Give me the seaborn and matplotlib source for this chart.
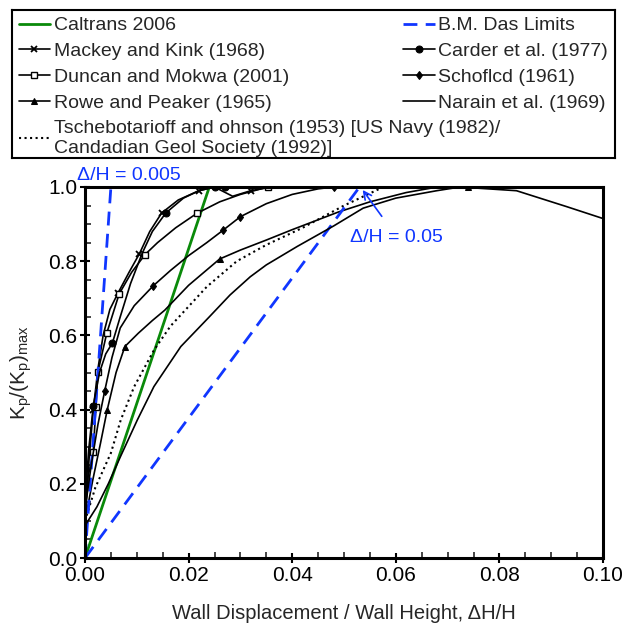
import matplotlib
matplotlib.use("Agg")
import matplotlib.pyplot as plt
from matplotlib.ticker import MultipleLocator, FormatStrFormatter
import seaborn as sns
import pandas as pd

mackey_x = [0, 0.0008, 0.0016, 0.0025, 0.0035, 0.0048, 0.0064, 0.0085, 0.0105, 0.0125, 0.0148, 0.018, 0.022, 0.025, 0.0285, 0.032, 0.036, 0.045, 0.06]
mackey_y = [0.10, 0.27, 0.40, 0.51, 0.60, 0.67, 0.715, 0.77, 0.82, 0.88, 0.93, 0.965, 0.99, 1.0, 0.975, 0.99, 1.0, 1.0, 1.0]

carder_x = [0, 0.0007, 0.0016, 0.0028, 0.004, 0.0053, 0.0068, 0.0088, 0.011, 0.013, 0.0156, 0.019, 0.022, 0.025, 0.027, 0.030, 0.04]
carder_y = [0.15, 0.29, 0.41, 0.50, 0.55, 0.58, 0.65, 0.74, 0.82, 0.88, 0.93, 0.97, 0.99, 1.0, 1.0, 1.0, 1.0]

duncan_x = [0, 0.0006, 0.0016, 0.0021, 0.0025, 0.0042, 0.0066, 0.0090, 0.0116, 0.014, 0.0175, 0.0216, 0.026, 0.030, 0.0353, 0.045]
duncan_y = [0.12, 0.22, 0.287, 0.407, 0.502, 0.606, 0.712, 0.77, 0.818, 0.85, 0.89, 0.929, 0.96, 0.98, 1.0, 1.0]

schofield_x = [0, 0.0012, 0.0025, 0.0038, 0.0052, 0.0068, 0.0095, 0.0132, 0.0165, 0.020, 0.0235, 0.0267, 0.030, 0.035, 0.040, 0.045, 0.048, 0.06]
schofield_y = [0.13, 0.25, 0.36, 0.45, 0.54, 0.62, 0.68, 0.734, 0.775, 0.815, 0.85, 0.884, 0.92, 0.955, 0.98, 0.995, 1.0, 1.0]

rowe_x = [0, 0.0015, 0.003, 0.0043, 0.006, 0.0077, 0.0103, 0.013, 0.0154, 0.020, 0.026, 0.030, 0.035, 0.040, 0.049, 0.055, 0.062, 0.068, 0.074]
rowe_y = [0.10, 0.21, 0.31, 0.40, 0.50, 0.57, 0.606, 0.64, 0.668, 0.735, 0.806, 0.83, 0.857, 0.885, 0.933, 0.96, 0.985, 1.0, 1.0]

narain_x = [0, 0.0003, 0.0023, 0.0045, 0.0069, 0.0101, 0.0133, 0.0185, 0.024, 0.028, 0.0319, 0.035, 0.041, 0.048, 0.0537, 0.060, 0.0679, 0.0724, 0.0833, 0.093, 0.10]
narain_y = [0.08, 0.094, 0.138, 0.20, 0.275, 0.372, 0.462, 0.57, 0.65, 0.709, 0.758, 0.79, 0.84, 0.895, 0.943, 0.97, 0.99, 1.0, 0.99, 0.947, 0.915]

tsch_x = [0, 0.002, 0.005, 0.0069, 0.0095, 0.0133, 0.0165, 0.0235, 0.0293, 0.035, 0.042, 0.050, 0.0576]
tsch_y = [0.10, 0.19, 0.283, 0.372, 0.462, 0.56, 0.625, 0.731, 0.80, 0.844, 0.89, 0.95, 1.0]

caltrans_x = [0, 0.024]
caltrans_y = [0, 1.0]

das_low_x = [0, 0.005]
das_high_x = [0, 0.053]
das_y = [0, 1.0]

GREEN = "#0a8a0a"
BLUE = "#1036ff"

sns.set_style("ticks")
plt.rcParams["font.family"] = ["Liberation Sans", "DejaVu Sans"]
plt.rcParams["mathtext.fontset"] = "custom"
plt.rcParams["mathtext.rm"] = "Liberation Sans"
plt.rcParams["mathtext.it"] = "Liberation Sans"

fig = plt.figure(figsize=(6.22, 6.26), dpi=100)
ax = fig.add_axes([85 / 622, 1 - 558 / 626, 518 / 622, 371 / 626])


def draw(xs, ys, label, **kw):
    df = pd.DataFrame({"x": xs, "y": ys})
    sns.lineplot(data=df, x="x", y="y", ax=ax, sort=False, estimator=None,
                 label=label, **kw)


TSCH = "Tschebotarioff and ohnson (1953) [US Navy (1982)/\nCandadian Geol Society (1992)]"

draw(caltrans_x, caltrans_y, "Caltrans 2006", color=GREEN, lw=2)
draw(mackey_x, mackey_y, "Mackey and Kink (1968)", color="k", lw=1.2,
     marker="x", ms=5, mew=1.3, mec="k", markevery=[2, 6, 8, 10, 12, 15])
draw(duncan_x, duncan_y, "Duncan and Mokwa (2001)", color="k", lw=1.2,
     marker="s", ms=4.5, mfc="white", mec="k", mew=1,
     markevery=[2, 3, 4, 5, 6, 8, 11, 14])
draw(rowe_x, rowe_y, "Rowe and Peaker (1965)", color="k", lw=1.2,
     marker="^", ms=4.5, mec="k", markevery=[3, 5, 10, 18])
draw(tsch_x, tsch_y, TSCH, color="k", lw=1.5, linestyle=":")
draw(das_low_x, das_y, "B.M. Das Limits", color=BLUE, lw=2, linestyle=(0, (5, 3)))
draw(das_high_x, das_y, None, color=BLUE, lw=2, linestyle=(0, (5, 3)))
draw(carder_x, carder_y, "Carder et al. (1977)", color="k", lw=1.2,
     marker="o", ms=5, mec="k", markevery=[2, 5, 10, 13, 14])
draw(schofield_x, schofield_y, "Schoflcd (1961)", color="k", lw=1.2,
     marker="d", ms=4.5, mec="k", markevery=[3, 7, 11, 12, 16])
draw(narain_x, narain_y, "Narain et al. (1969)", color="k", lw=1.2)

handles, labels = ax.get_legend_handles_labels()
if ax.get_legend() is not None:
    ax.get_legend().remove()
lookup = dict(zip(labels, handles))

ax.set_xlim(0, 0.10)
ax.set_ylim(0, 1.0)
ax.xaxis.set_major_locator(MultipleLocator(0.02))
ax.xaxis.set_minor_locator(MultipleLocator(0.005))
ax.yaxis.set_major_locator(MultipleLocator(0.2))
ax.yaxis.set_minor_locator(MultipleLocator(0.05))
ax.xaxis.set_major_formatter(FormatStrFormatter("%.2f"))
ax.yaxis.set_major_formatter(FormatStrFormatter("%.1f"))
ax.tick_params(which="major", direction="inout", length=7, width=1.5,
               labelsize=15, colors="k", pad=2)
ax.tick_params(which="minor", direction="in", length=4, width=1.2)
for s in ax.spines.values():
    s.set_linewidth(2.2)
    s.set_color("k")
    s.set_visible(True)

ax.set_xlabel("Wall Displacement / Wall Height, \u0394H/H", fontsize=14.5, labelpad=14)
ax.set_ylabel(r"$\mathregular{K_p/(K_p)_{max}}$", fontsize=15, labelpad=10)

ax.text(0.0085, 1.03, "\u0394/H = 0.005", color=BLUE, fontsize=14,
        ha="center", va="center", clip_on=False)
ax.annotate("\u0394/H = 0.05", xy=(0.0536, 0.992), xytext=(0.0602, 0.865),
            color=BLUE, fontsize=14, ha="center", va="center",
            arrowprops=dict(arrowstyle="->", color=BLUE, lw=1.2,
                            shrinkA=8, shrinkB=0))

# legend box above the plot
lax = fig.add_axes([12 / 622, 1 - 158 / 626, 603 / 622, 148 / 626])
lax.set_xticks([])
lax.set_yticks([])
for s in lax.spines.values():
    s.set_linewidth(1.5)
    s.set_color("k")

left_keys = ["Caltrans 2006", "Mackey and Kink (1968)", "Duncan and Mokwa (2001)",
             "Rowe and Peaker (1965)", TSCH]
right_keys = ["B.M. Das Limits", "Carder et al. (1977)", "Schoflcd (1961)",
              "Narain et al. (1969)"]

leg_kw = dict(frameon=False, fontsize=14, handlelength=1.6, handletextpad=0.2,
              labelspacing=0.42, borderaxespad=0.15, borderpad=0.2)
leg1 = lax.legend([lookup[k] for k in left_keys], left_keys, loc="upper left", **leg_kw)
lax.add_artist(leg1)
lax.legend([lookup[k] for k in right_keys], right_keys, loc="upper right", **leg_kw)

fig.savefig("out.png", dpi=100)
